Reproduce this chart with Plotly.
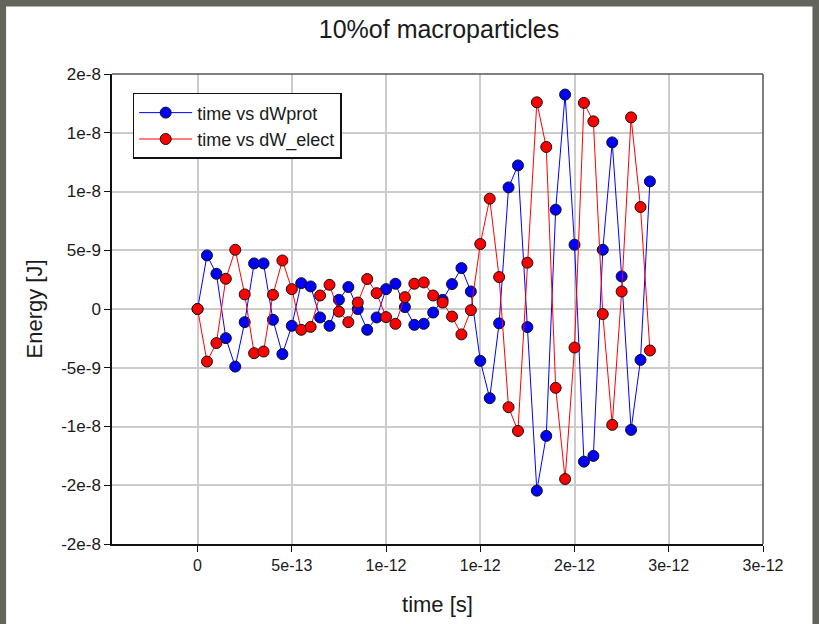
import plotly.graph_objects as go

# time step 5e-14 s, 49 samples
n_points = 49
time_step = 5e-14
time_s = [i * time_step for i in range(n_points)]

dW_prot = [0, 4.56e-9, 3.0e-9, -2.48e-9, -4.9e-9, -1.12e-9, 3.88e-9, 3.88e-9, -0.92e-9, -3.84e-9,
           -1.43e-9, 2.2e-9, 1.92e-9, -0.72e-9, -1.43e-9, 0.78e-9, 1.87e-9, -0.01e-9, -1.77e-9, -0.72e-9,
           1.69e-9, 2.15e-9, 0.16e-9, -1.35e-9, -1.26e-9, -0.3e-9, 0.78e-9, 2.12e-9, 3.48e-9, 1.49e-9,
           -4.41e-9, -7.59e-9, -1.22e-9, 10.35e-9, 12.22e-9, -1.54e-9, -15.46e-9, -10.8e-9, 8.45e-9, 18.25e-9,
           5.47e-9, -12.99e-9, -12.5e-9, 5.04e-9, 14.18e-9, 2.77e-9, -10.29e-9, -4.33e-9, 10.86e-9]

dW_elect = [0, -4.47e-9, -2.9e-9, 2.57e-9, 5.04e-9, 1.24e-9, -3.76e-9, -3.62e-9, 1.21e-9, 4.13e-9,
            1.69e-9, -1.77e-9, -1.52e-9, 1.15e-9, 2.06e-9, -0.22e-9, -1.12e-9, 0.55e-9, 2.55e-9, 1.35e-9,
            -0.69e-9, -1.26e-9, 1.01e-9, 2.15e-9, 2.26e-9, 1.15e-9, 0.55e-9, -0.64e-9, -2.16e-9, -0.1e-9,
            5.53e-9, 9.39e-9, 2.72e-9, -8.36e-9, -10.38e-9, 3.94e-9, 17.59e-9, 13.79e-9, -6.71e-9, -14.47e-9,
            -3.28e-9, 17.54e-9, 15.97e-9, -0.43e-9, -9.86e-9, 1.49e-9, 16.31e-9, 8.68e-9, -3.53e-9]

x_tickvals = [0, 5e-13, 1e-12, 1.5e-12, 2e-12, 2.5e-12, 3e-12]
x_ticktext = ["0", "5e-13", "1e-12", "1e-12", "2e-12", "3e-12", "3e-12"]
y_tickvals = [-2e-8, -1.5e-8, -1e-8, -5e-9, 0, 5e-9, 1e-8, 1.5e-8, 2e-8]
y_ticktext = ["-2e-8", "-2e-8", "-1e-8", "-5e-9", "0", "5e-9", "1e-8", "1e-8", "2e-8"]

FONT = "Arial, Liberation Sans, sans-serif"

fig = go.Figure()
fig.add_trace(go.Scatter(
    x=time_s, y=dW_prot, mode="lines+markers", name="time vs dWprot",
    line=dict(color="#0000ff", width=1),
    marker=dict(color="#0000ff", size=11, line=dict(color="#111111", width=1)),
))
fig.add_trace(go.Scatter(
    x=time_s, y=dW_elect, mode="lines+markers", name="time vs dW_elect",
    line=dict(color="#ff0000", width=1),
    marker=dict(color="#ff0000", size=11, line=dict(color="#111111", width=1)),
))

border = "#63645a"
fig.update_layout(
    width=819, height=624,
    margin=dict(l=112, r=55.5, t=74.4, b=80, autoexpand=False),
    paper_bgcolor=border,
    plot_bgcolor="white",
    font=dict(family=FONT, color="#1a1a1a", size=16),
    title=dict(text="10%of macroparticles", x=439 / 819, xanchor="center",
               y=1 - 29 / 624, yanchor="middle", font=dict(size=25, color="#1a1a1a")),
    showlegend=True,
    legend=dict(x=(132.7 - 112) / 651.5, y=1 - (93.3 - 74.4) / 469.6, xanchor="left", yanchor="top",
                bgcolor="white", bordercolor="#111111", borderwidth=1.5,
                itemwidth=53,
                font=dict(size=18, color="#1a1a1a"), tracegroupgap=0),
    xaxis=dict(range=[-4.54e-13, 3e-12], tickmode="array", tickvals=x_tickvals, ticktext=x_ticktext,
               showgrid=True, gridcolor="#cccccc", gridwidth=1.5, zeroline=False,
               showline=True, linecolor="#111111", linewidth=1.5,
               ticks="outside", ticklen=6, tickcolor="#111111", tickwidth=1,
               tickfont=dict(size=16),
               title=dict(text="time [s]", font=dict(size=22), standoff=24)),
    yaxis=dict(range=[-2e-8, 2e-8], tickmode="array", tickvals=y_tickvals, ticktext=y_ticktext,
               showgrid=True, gridcolor="#cccccc", gridwidth=1.5, zeroline=False,
               showline=True, linecolor="#111111", linewidth=1.5,
               ticks="outside", ticklen=6, tickcolor="#111111", tickwidth=1,
               tickfont=dict(size=17),
               title=dict(text="Energy [J]", font=dict(size=22), standoff=12)),
    shapes=[
        dict(type="rect", xref="paper", yref="paper", layer="below",
             x0=(6 - 112) / 651.5, x1=(813 - 112) / 651.5,
             y0=(544 - 630) / 469.6, y1=(544 - 7) / 469.6,
             fillcolor="white", line=dict(width=0)),
        dict(type="line", xref="paper", yref="paper", x0=0, x1=1, y0=1, y1=1,
             line=dict(color="#555555", width=1.5)),
        dict(type="line", xref="paper", yref="paper", x0=1, x1=1, y0=0, y1=1,
             line=dict(color="#555555", width=1.5)),
    ],
)

fig.write_html("out.html")
